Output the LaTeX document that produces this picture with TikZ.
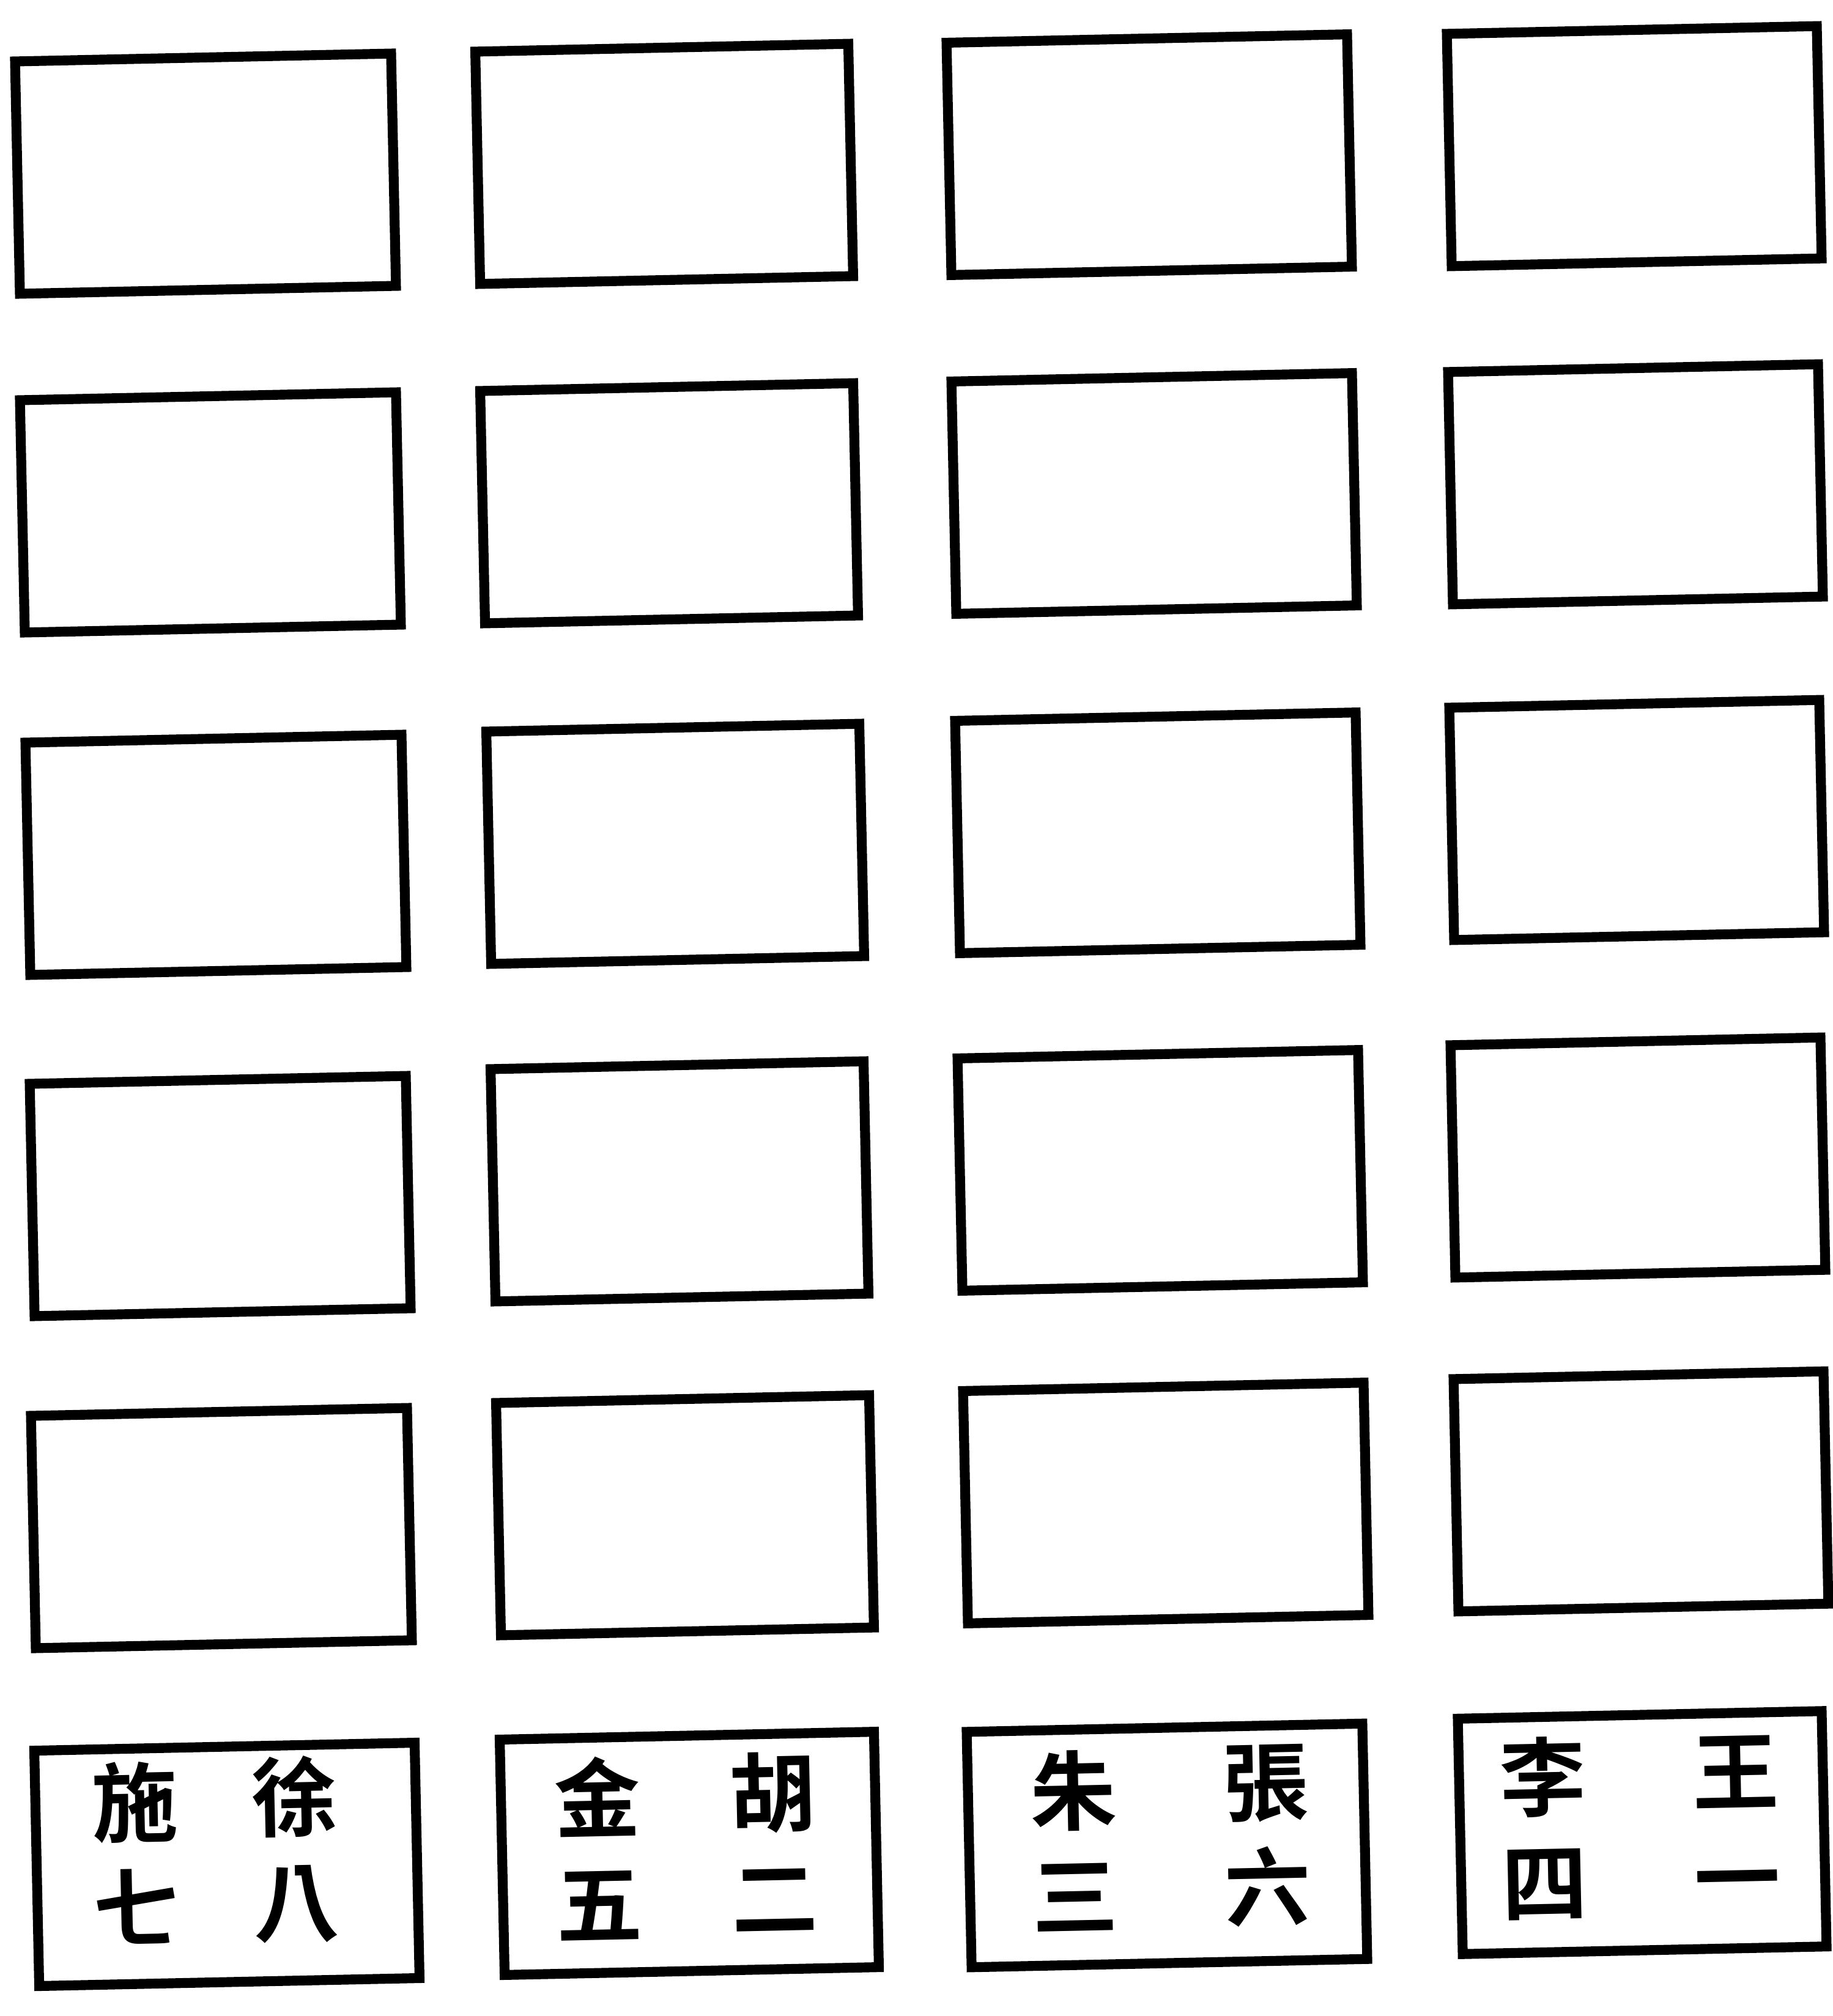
\documentclass[tikz,border=0pt]{standalone}
\usepackage{fontspec}
\newfontfamily\cjk{Noto Sans CJK TC}[BoldFont={* Bold}]

\begin{document}
\begin{tikzpicture}[
    card/.style={draw=\INK, line width=4.6pt, rectangle, inner sep=0pt,
      minimum height=3.8cm, rotate=1.2},
    lastcard/.style={card, minimum height=3.85cm},
    names/.style={text=\INK, inner sep=0pt, align=center, rotate=1.2,
      font=\cjk\bfseries\fontsize{40}{49}\selectfont}
  ]

\def\INK{black}
\def\WC{6.15cm}
\def\WD{6.1cm}
\def\WE{6.55cm}
\def\WF{6.05cm}
	\useasboundingbox (0,0) rectangle (29.97,-32.97);
	% row 1
	\node[card, minimum width=\WC] (r1c1) at (3.36,-2.84) {};
	\node[card, minimum width=\WD] (r1c2) at (10.86,-2.68) {};
	\node[card, minimum width=\WE] (r1c3) at (18.79,-2.53) {};
	\node[card, minimum width=\WF] (r1c4) at (26.72,-2.39) {};
	% row 2
	\node[card, minimum width=\WC] (r2c1) at (3.44,-8.38) {};
	\node[card, minimum width=\WD] (r2c2) at (10.94,-8.23) {};
	\node[card, minimum width=\WE] (r2c3) at (18.87,-8.07) {};
	\node[card, minimum width=\WF] (r2c4) at (26.74,-7.92) {};
	% row 3
	\node[card, minimum width=\WC] (r3c1) at (3.53,-13.98) {};
	\node[card, minimum width=\WD] (r3c2) at (11.04,-13.80) {};
	\node[card, minimum width=\WE] (r3c3) at (18.93,-13.62) {};
	\node[card, minimum width=\WF] (r3c4) at (26.76,-13.41) {};
	% row 4
	\node[card, minimum width=\WC] (r4c1) at (3.60,-19.56) {};
	\node[card, minimum width=\WD] (r4c2) at (11.11,-19.32) {};
	\node[card, minimum width=\WE] (r4c3) at (18.97,-19.14) {};
	\node[card, minimum width=\WF] (r4c4) at (26.78,-18.93) {};
	% row 5
	\node[card, minimum width=\WC] (r5c1) at (3.62,-24.99) {};
	\node[card, minimum width=\WD] (r5c2) at (11.20,-24.78) {};
	\node[card, minimum width=\WE] (r5c3) at (19.06,-24.58) {};
	\node[card, minimum width=\WF] (r5c4) at (26.83,-24.39) {};
	% row 6, the named ones
	\node[lastcard, minimum width=6.22cm] (r6c1) at (3.71,-30.49) {};
	\node[lastcard, minimum width=6.12cm] (r6c2) at (11.27,-30.31) {};
	\node[lastcard, minimum width=6.47cm] (r6c3) at (19.08,-30.18) {};
	\node[lastcard, minimum width=5.95cm] (r6c4) at (26.85,-29.97) {};

	\node[names] (shiqi) at (2.22,-30.30) {施\\七};
	\node[names] (xuba) at (4.83,-30.25) {徐\\八};
	\node[names] (jinwu) at (9.78,-30.23) {金\\五};
	\node[names] (huer) at (12.65,-30.12) {胡\\二};
	\node[names] (zhusan) at (17.56,-30.10) {朱\\三};
	\node[names] (zhangliu) at (20.71,-30.02) {張\\六};
	\node[names] (lisi) at (25.24,-29.90) {李\\四};
	\node[names] (wangyi) at (28.39,-29.81) {王\\一};

\end{tikzpicture}
\end{document}
